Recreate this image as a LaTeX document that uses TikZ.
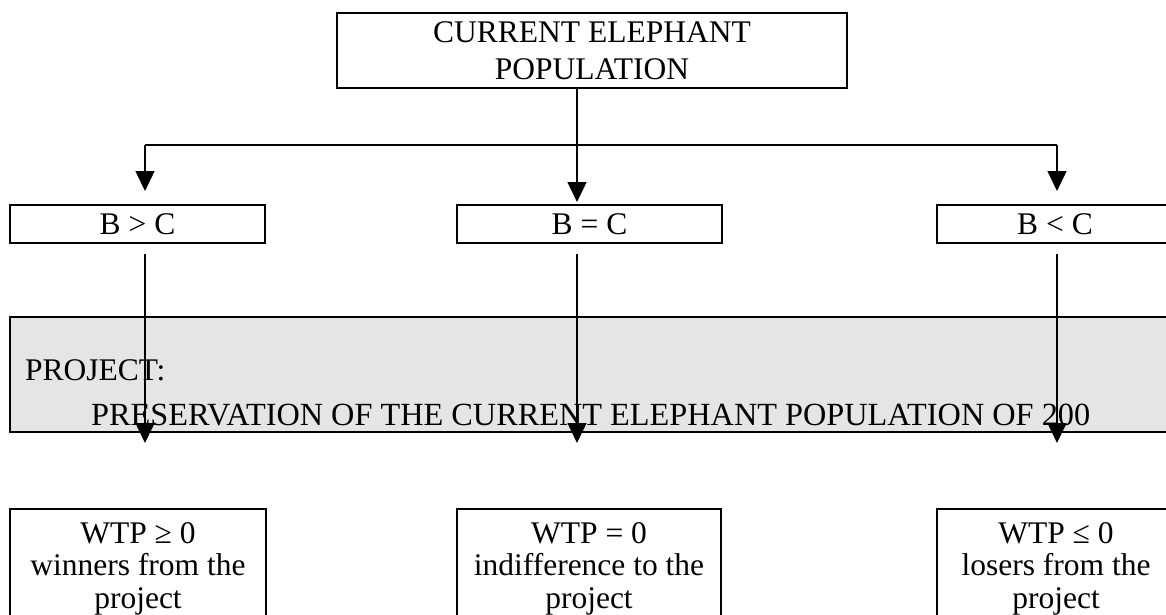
\documentclass[tikz,border=0pt]{standalone}
\usepackage{fontspec}
\setmainfont{Liberation Serif}
\usetikzlibrary{arrows.meta}
\definecolor{projgray}{RGB}{229,229,229}
\begin{document}
\begin{tikzpicture}[x=1pt,y=-1pt,
  box/.style={draw, line width=2pt, inner sep=0pt, align=center,
    font=\fontsize{31.5}{37}\selectfont},
  lowbox/.style={draw, line width=2pt, inner sep=0pt, align=center, anchor=north,
    font=\fontsize{31.5}{32.5}\selectfont, minimum height=119pt},
  lbl/.style={inner sep=0pt, anchor=base west, font=\fontsize{31.5}{37}\selectfont},
  conn/.style={line width=1.5pt},
  arr/.style={conn, -{Triangle[length=20pt,width=19pt]}},
]
\useasboundingbox (0,0) rectangle (1166,615);
\clip (0,0) rectangle (1166,615);

% top box
\node[box, minimum width=510pt, minimum height=75pt] (top) at (592,50.5) {CURRENT ELEPHANT\\POPULATION};

% comparison boxes
\node[box, minimum width=255pt, minimum height=38pt] (bgt) at (137.5,224) {B > C};
\node[box, minimum width=265pt, minimum height=38pt] (beq) at (589.5,224) {B = C};
\node[box, minimum width=236pt, minimum height=38pt] (blt) at (1055,224) {B < C};

% project band
\node[draw, line width=2pt, fill=projgray, minimum width=1170pt, minimum height=115pt, inner sep=0pt] (proj) at (595,374.5) {};
\node[lbl] (p1) at (25,380) {PROJECT:};
\node[lbl, font=\fontsize{32.3}{37}\selectfont] (p2) at (91,425) {PRESERVATION OF THE CURRENT ELEPHANT POPULATION OF 200};

% outcome boxes
\node[lowbox, minimum width=256pt] (wl) at (138,508) {WTP ≥ 0\\winners from the\\project};
\node[lowbox, minimum width=264pt] (wm) at (589,508) {WTP = 0\\indifference to the\\project};
\node[lowbox, minimum width=238pt] (wr) at (1056,508) {WTP ≤ 0\\losers from the\\project};

% connectors
\coordinate (cL) at (145,145);
\coordinate (cM) at (577,145);
\coordinate (cR) at (1057,145);
\draw[conn] (top.south -| cM) -- (cM);
\draw[conn, line width=1.3pt] (cL) -- (cR);
\draw[arr, shorten >=13pt] (cL) -- (cL |- bgt.north);
\draw[arr, shorten >=2pt] (cM) -- (cM |- beq.north);
\draw[arr, shorten >=13pt] (cR) -- (cR |- blt.north);

\draw[arr, shorten <=10pt, shorten >=65pt] (bgt.south -| cL) -- (wl.north -| cL);
\draw[arr, shorten <=10pt, shorten >=65pt] (beq.south -| cM) -- (wm.north -| cM);
\draw[arr, shorten <=10pt, shorten >=65pt] (blt.south -| cR) -- (wr.north -| cR);
\end{tikzpicture}
\end{document}
